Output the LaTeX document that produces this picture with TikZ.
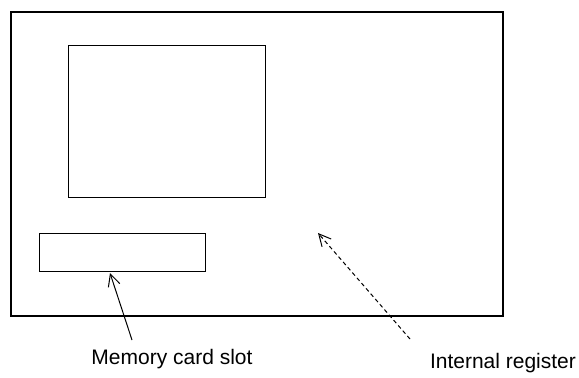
\documentclass[tikz,border=0pt]{standalone}
\usepackage{fontspec}
\setmainfont{Liberation Sans}
\usetikzlibrary{arrows.meta,positioning}
\tikzset{box/.style={draw,line width=0.8pt,inner sep=0pt,anchor=north west},arr/.style={-{Straight Barb[length=6pt,width=6pt]},line width=0.5pt},lab/.style={font=\fontsize{10.5}{12}\selectfont,inner sep=0pt,anchor=base}}

\begin{document}
\begin{tikzpicture}[x=0.5pt,y=-0.5pt]
\useasboundingbox (0,0) rectangle (579,377);
\node[box,minimum width=246pt,minimum height=152pt] (panel) at (10,11) {};
\node[box,line width=0.7pt,minimum width=98.5pt,minimum height=76pt] (screen) at (68,45) {};
\node[box,line width=0.7pt,minimum width=83pt,minimum height=19pt] (slot) at (39,233) {};
\node[lab] (slotlbl) at (172,364) {Memory card slot};
\node[lab] (reglbl) at (503,368) {Internal register};
\coordinate (slottail) at (132,340);
\coordinate (slottip) at (110,273);
\coordinate (regtail) at (410,339);
\coordinate (regtip) at (318,233);
\draw[arr] (slottail) -- (slottip);
\draw[arr,dash pattern=on 2pt off 1.5pt] (regtail) -- (regtip);
\end{tikzpicture}
\end{document}
